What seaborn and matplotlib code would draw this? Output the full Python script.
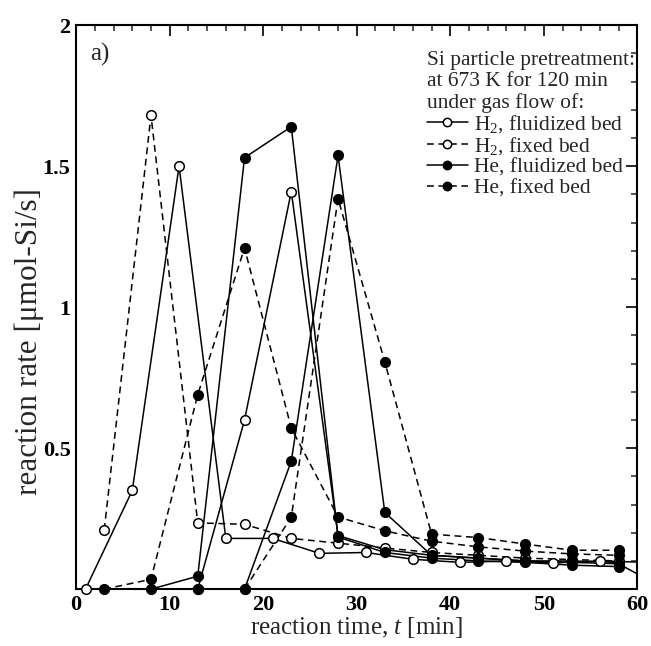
import matplotlib
matplotlib.use("Agg")
import matplotlib.pyplot as plt
from matplotlib.lines import Line2D
from matplotlib.ticker import MultipleLocator, FuncFormatter
import seaborn as sns
import pandas as pd

# ---- data ----
h2_fluid_run1_t = [1, 6, 11, 16, 21, 26, 31, 36, 41, 46, 51, 56, 61]
h2_fluid_run1_v = [0.0, 0.35, 1.50, 0.18, 0.18, 0.127, 0.13, 0.106, 0.095, 0.10, 0.093, 0.10, 0.095]
h2_fluid_run2_t = [13, 18, 23, 28, 33, 38, 43, 48, 53, 58]
h2_fluid_run2_v = [0.0, 0.60, 1.41, 0.19, 0.14, 0.12, 0.11, 0.10, 0.10, 0.095]

h2_fixed_t = [3, 8, 13, 18, 23, 28, 33, 38, 43, 48, 53, 58]
h2_fixed_v = [0.21, 1.68, 0.235, 0.23, 0.18, 0.163, 0.146, 0.13, 0.12, 0.11, 0.105, 0.10]

he_fluid_run1_t = [8, 13, 18, 23, 28, 33, 38, 43, 48, 53, 58]
he_fluid_run1_v = [0.0, 0.046, 1.53, 1.64, 0.185, 0.13, 0.11, 0.10, 0.095, 0.085, 0.08]
he_fluid_run2_t = [13, 18, 23, 28, 33, 38, 43, 48, 53, 58, 63]
he_fluid_run2_v = [0.0, 0.0, 0.454, 1.538, 0.272, 0.12, 0.11, 0.10, 0.095, 0.09, 0.0]

he_fixed_run1_t = [3, 8, 13, 18, 23, 28, 33, 38, 43, 48, 53, 58]
he_fixed_run1_v = [0.0, 0.035, 0.69, 1.21, 0.571, 0.256, 0.207, 0.17, 0.15, 0.135, 0.125, 0.12]
he_fixed_run2_t = [18, 23, 28, 33, 38, 43, 48, 53, 58]
he_fixed_run2_v = [0.0, 0.255, 1.385, 0.806, 0.195, 0.183, 0.16, 0.138, 0.138]

legend_labels = ["H$_2$, fluidized bed", "H$_2$, fixed bed",
                 "He, fluidized bed", "He, fixed bed"]
legend_title = "Si particle pretreatment:\nat 673 K for 120 min\nunder gas flow of:"

runs = [
    (h2_fluid_run1_t, h2_fluid_run1_v, 0, "r1"),
    (h2_fluid_run2_t, h2_fluid_run2_v, 0, "r2"),
    (h2_fixed_t, h2_fixed_v, 1, "r1"),
    (he_fluid_run1_t, he_fluid_run1_v, 2, "r1"),
    (he_fluid_run2_t, he_fluid_run2_v, 2, "r2"),
    (he_fixed_run1_t, he_fixed_run1_v, 3, "r1"),
    (he_fixed_run2_t, he_fixed_run2_v, 3, "r2"),
]
rows = []
for t, v, k, r in runs:
    for ti, vi in zip(t, v):
        rows.append({"time": ti, "rate": vi, "cond": legend_labels[k], "run": r})
df = pd.DataFrame(rows)

dash = (0, (4.5, 3))
styles = {
    legend_labels[0]: dict(ls="-", mfc="white"),
    legend_labels[1]: dict(ls=dash, mfc="white"),
    legend_labels[2]: dict(ls="-", mfc="black"),
    legend_labels[3]: dict(ls=dash, mfc="black"),
}

sns.set_theme(style="white")
plt.rcParams["font.family"] = ["Liberation Serif", "DejaVu Serif"]
plt.rcParams["mathtext.fontset"] = "custom"
plt.rcParams["mathtext.rm"] = "Liberation Serif"
plt.rcParams["mathtext.it"] = "Liberation Serif:italic"

fig = plt.figure(figsize=(6.51, 6.46), dpi=100)
ax = fig.add_axes([0.117, 0.088, 0.862, 0.873])

# lines (clipped to the axes)
for cond in legend_labels:
    sub_c = df[df["cond"] == cond]
    for r in sub_c["run"].unique():
        sub = sub_c[sub_c["run"] == r]
        sns.lineplot(data=sub, x="time", y="rate", ax=ax, sort=False, estimator=None,
                     color="black", lw=1.1, linestyle=styles[cond]["ls"],
                     legend=False)

# markers (not clipped, so points on the axis show whole)
vis = df[df["time"] <= 60]
for cond in legend_labels:
    sub = vis[vis["cond"] == cond]
    sns.scatterplot(data=sub, x="time", y="rate", ax=ax, marker="o", s=48,
                    color=styles[cond]["mfc"], edgecolor="black", linewidth=1.1,
                    legend=False, clip_on=False, zorder=3)

ax.set_xlim(0, 60)
ax.set_ylim(0, 2)
ax.xaxis.set_major_locator(MultipleLocator(10))
ax.xaxis.set_minor_locator(MultipleLocator(2))
ax.yaxis.set_major_locator(MultipleLocator(0.5))
ax.yaxis.set_minor_locator(MultipleLocator(0.1))
ax.yaxis.set_major_formatter(FuncFormatter(lambda v, p: "" if v == 0 else f"{v:g}"))
ax.tick_params(which="major", direction="in", top=True, right=True, length=8, width=1.2,
               labelsize=16, pad=4, colors="black")
ax.tick_params(which="minor", direction="in", top=True, right=True, length=4.5, width=1.1)
for lab in ax.get_xticklabels() + ax.get_yticklabels():
    lab.set_fontweight("bold")
for s in ax.spines.values():
    s.set_linewidth(1.5)
    s.set_color("black")

ax.set_xlabel("reaction time, $\\mathit{t}$ [min]", fontsize=18, labelpad=0)
ax.set_ylabel("reaction rate [\u03bcmol-Si/s]", fontsize=22.5)
ax.yaxis.set_label_coords(-0.058, 0.44)

ax.text(0.024, 0.968, "a)", transform=ax.transAxes, fontsize=18, va="top", ha="left")

handles = [Line2D([], [], color="black", lw=1.1, linestyle=styles[l]["ls"], marker="o",
                  markersize=6, markerfacecolor=styles[l]["mfc"], markeredgecolor="black",
                  markeredgewidth=1.1) for l in legend_labels]
leg = ax.legend(handles, legend_labels, title=legend_title, loc="upper left",
                bbox_to_anchor=(0.625, 0.955), frameon=False, fontsize=15.5,
                title_fontsize=15.5, handlelength=1.9, handletextpad=0.3,
                labelspacing=0.03, borderpad=0, borderaxespad=0)
leg._legend_box.align = "left"
leg._legend_box.sep = 0
leg.get_title().set_linespacing(1.15)

fig.savefig("out.png", dpi=100)
